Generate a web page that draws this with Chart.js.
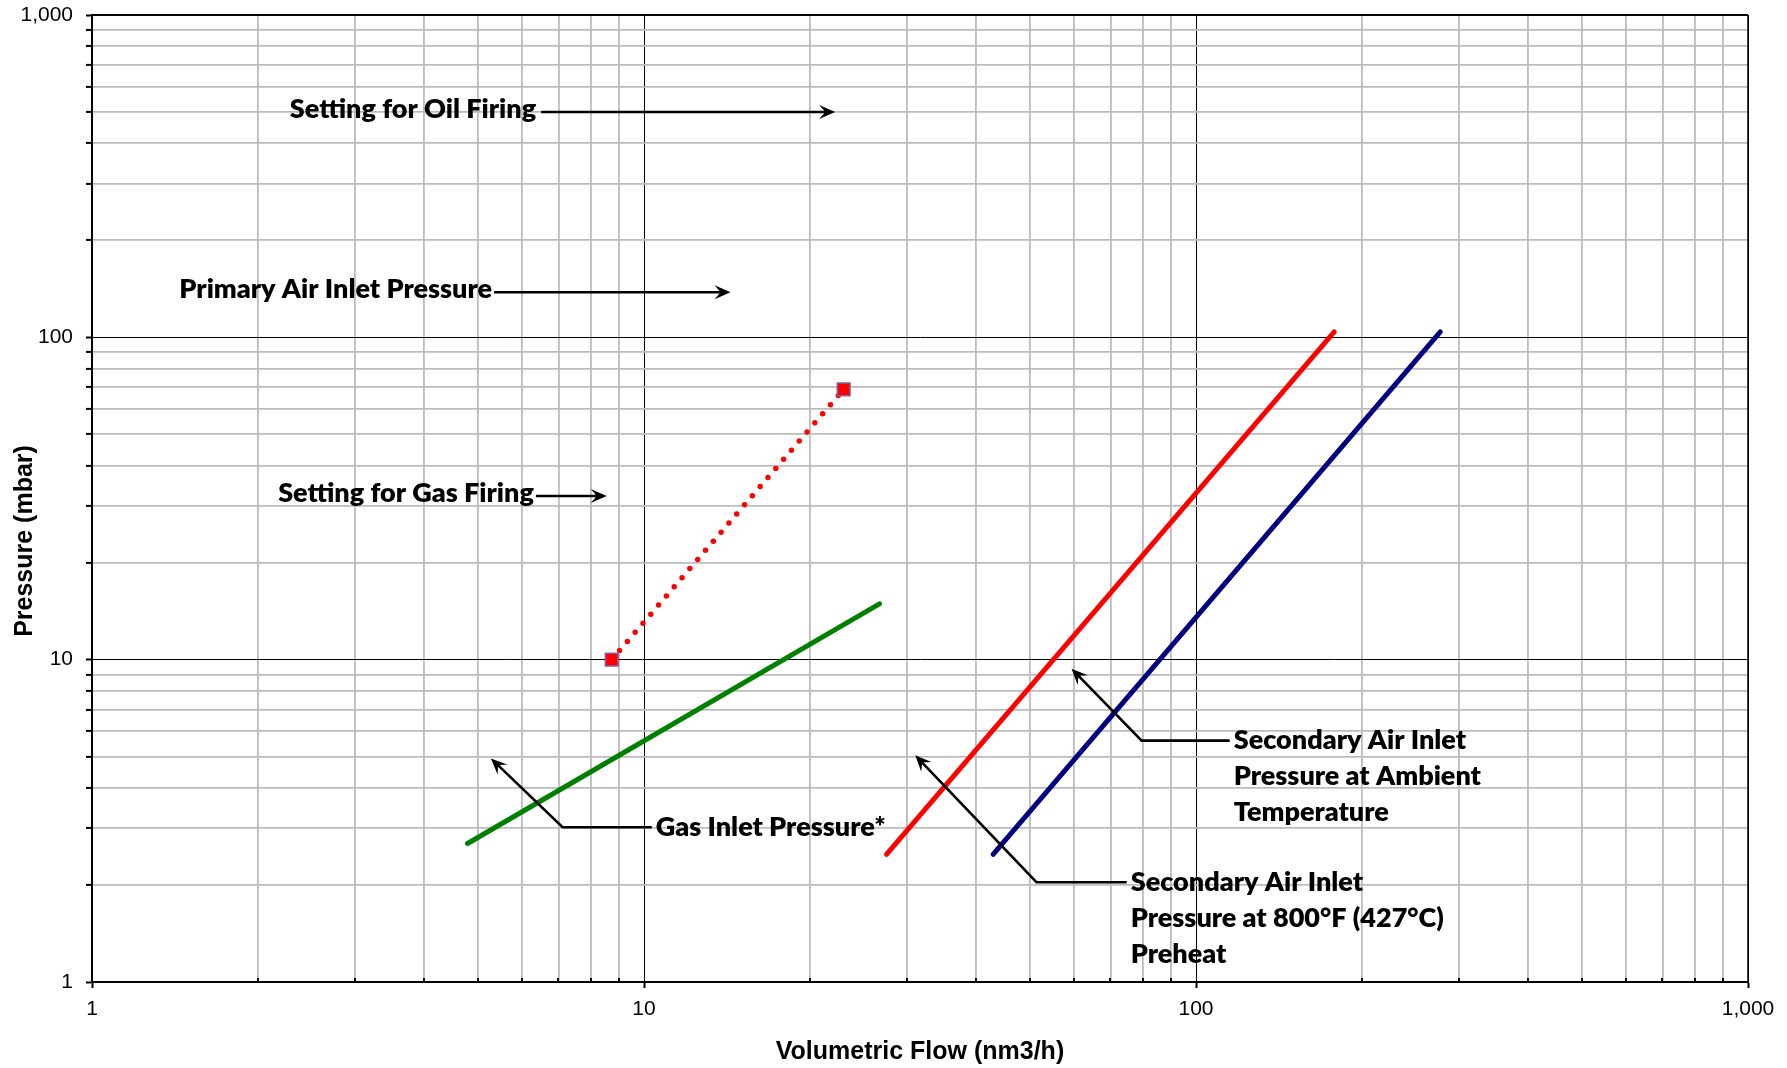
<!DOCTYPE html>
<html>
<head>
<meta charset="utf-8">
<title>Pressure vs Volumetric Flow</title>
<script src="https://cdn.jsdelivr.net/npm/chart.js@4.4.1/dist/chart.umd.min.js"></script>
<style>
  body { margin: 0; background: #fff; }
  #wrap { width: 1787px; height: 1068px; }
</style>
</head>
<body>
<div id="wrap"><canvas id="myCanvas"></canvas></div>
<script>
// axis ticks (decades get a label, the rest only a grid line)
var majorTicks = [1, 10, 100, 1000];
var minorSteps = [2, 3, 4, 5, 6, 7, 8, 9];

// setting for gas firing (dotted, with markers)
var gasSettingFlow = [8.74, 23.0];
var gasSettingPressure = [10, 69];

// gas inlet pressure
var gasInletFlow = [4.79, 26.7];
var gasInletPressure = [2.69, 14.9];

// secondary air inlet, 800F preheat (red)
var preheatFlow = [27.5, 178];
var preheatPressure = [2.49, 104];

// secondary air inlet, ambient (navy)
var ambientFlow = [42.9, 277];
var ambientPressure = [2.49, 104];

function toPoints(xs, ys) {
    var pts = [];
    for (var i = 0; i < xs.length; i++) {
        pts.push({ x: xs[i], y: ys[i] });
    }
    return pts;
}

function allTicks() {
    var list = [];
    for (var i = 0; i < majorTicks.length; i++) {
        list.push(majorTicks[i]);
        if (i < majorTicks.length - 1) {
            for (var j = 0; j < minorSteps.length; j++) {
                list.push(majorTicks[i] * minorSteps[j]);
            }
        }
    }
    return list;
}

function isMajor(v) {
    return majorTicks.indexOf(v) >= 0;
}

// notes: arrows to the right of a label
var rightArrows = [
    { text: 'Setting for Oil Firing', from: [6.51, 500], to: [22.2, 500], gap: 5 },
    { text: 'Primary Air Inlet Pressure', from: [5.35, 138], to: [14.35, 138], gap: 2 },
    { text: 'Setting for Gas Firing', from: [6.37, 32.2], to: [8.56, 32.2], gap: 2 }
];

// notes: label with an elbow leader pointing at a line
var leaders = [
    { lines: ['Gas Inlet Pressure*'], tip: [5.28, 4.94], elbow: [7.12, 3.02], endX: 10.33 },
    { lines: ['Secondary Air Inlet', 'Pressure at Ambient', 'Temperature'], tip: [59.5, 9.38], elbow: [79.7, 5.61], endX: 115.1 },
    { lines: ['Secondary Air Inlet', 'Pressure at 800\u00B0F (427\u00B0C)', 'Preheat'], tip: [31.0, 5.05], elbow: [51.4, 2.04], endX: 74.9 }
];

var noteFont = '800 27px Lato, "Open Sans", sans-serif';

function arrowHead(ctx, x1, y1, x2, y2) {
    var a = Math.atan2(y2 - y1, x2 - x1);
    var len = 16, half = 7, notch = 10;
    ctx.save();
    ctx.translate(x2, y2);
    ctx.rotate(a);
    ctx.beginPath();
    ctx.moveTo(0, 0);
    ctx.lineTo(-len, -half);
    ctx.lineTo(-notch, 0);
    ctx.lineTo(-len, half);
    ctx.closePath();
    ctx.fill();
    ctx.restore();
}

var notesPlugin = {
    id: 'notes',
    afterDatasetsDraw: function(chart) {
        var ctx = chart.ctx;
        var sx = chart.scales.x, sy = chart.scales.y;
        var area = chart.chartArea;
        ctx.save();

        // top and right frame, inward minor ticks on x axis
        ctx.strokeStyle = '#000';
        ctx.lineWidth = 2;
        ctx.beginPath();
        ctx.moveTo(area.left, area.top);
        ctx.lineTo(area.right, area.top);
        ctx.stroke();
        ctx.lineWidth = 1.5;
        ctx.beginPath();
        ctx.moveTo(area.right, area.top);
        ctx.lineTo(area.right, area.bottom);
        ctx.stroke();
        ctx.lineWidth = 2;
        var tv = allTicks();
        for (var t = 0; t < tv.length; t++) {
            if (isMajor(tv[t])) continue;
            var px = Math.round(sx.getPixelForValue(tv[t]));
            ctx.beginPath();
            ctx.moveTo(px, area.bottom);
            ctx.lineTo(px, area.bottom - 4);
            ctx.stroke();
        }

        ctx.fillStyle = '#000';
        ctx.strokeStyle = '#000';
        ctx.lineWidth = 2.6;
        ctx.font = noteFont;
        ctx.textBaseline = 'middle';

        var i, n, x1, x2, y;
        for (i = 0; i < rightArrows.length; i++) {
            n = rightArrows[i];
            x1 = sx.getPixelForValue(n.from[0]);
            x2 = sx.getPixelForValue(n.to[0]);
            y = sy.getPixelForValue(n.from[1]);
            ctx.beginPath();
            ctx.moveTo(x1, y);
            ctx.lineTo(x2 - 8, y);
            ctx.stroke();
            arrowHead(ctx, x1, y, x2, y);
            ctx.textAlign = 'right';
            ctx.fillText(n.text, x1 - n.gap, y - 3);
        }

        for (i = 0; i < leaders.length; i++) {
            n = leaders[i];
            var tx = sx.getPixelForValue(n.tip[0]);
            var ty = sy.getPixelForValue(n.tip[1]);
            var ex = sx.getPixelForValue(n.elbow[0]);
            var ey = sy.getPixelForValue(n.elbow[1]);
            var hx = sx.getPixelForValue(n.endX);
            var ang = Math.atan2(ty - ey, tx - ex);
            ctx.beginPath();
            ctx.moveTo(hx, ey);
            ctx.lineTo(ex, ey);
            ctx.lineTo(tx - 8 * Math.cos(ang), ty - 8 * Math.sin(ang));
            ctx.stroke();
            arrowHead(ctx, ex, ey, tx, ty);
            ctx.textAlign = 'left';
            for (var k = 0; k < n.lines.length; k++) {
                ctx.fillText(n.lines[k], hx + 4, ey + k * 36);
            }
        }

        // y axis title
        ctx.font = 'bold 25px "Liberation Sans", Arial, sans-serif';
        ctx.textAlign = 'center';
        ctx.translate(25, 541);
        ctx.rotate(-Math.PI / 2);
        ctx.fillText('Pressure (mbar)', 0, 0);
        ctx.restore();
    }
};

var tickFont = { family: '"Liberation Sans", Arial, sans-serif', size: 21 };

function gridColor(c) {
    return c.tick && isMajor(c.tick.value) ? '#000000' : '#bcbcbc';
}
function gridWidth(c) {
    return c.tick && isMajor(c.tick.value) ? 1 : 1.8;
}
function setTicks(scale) {
    scale.ticks = allTicks().map(function(v) { return { value: v, major: isMajor(v) }; });
}
function tickLabel(v) {
    return isMajor(v) ? v.toLocaleString('en-US') : '';
}

var ctx = document.getElementById('myCanvas').getContext('2d');
var chart = new Chart(ctx, {
    type: 'line',
    data: {
        datasets: [{
            label: 'Setting for Gas Firing',
            data: toPoints(gasSettingFlow, gasSettingPressure),
            borderColor: '#ff0000',
            borderWidth: 5.5,
            borderDash: [0, 12],
            borderCapStyle: 'round',
            pointStyle: 'rect',
            pointRadius: 9,
            pointBackgroundColor: '#ff0000',
            pointBorderColor: '#8064a2',
            pointBorderWidth: 1.5
        }, {
            label: 'Gas Inlet Pressure*',
            data: toPoints(gasInletFlow, gasInletPressure),
            borderColor: '#008000',
            borderWidth: 5,
            borderCapStyle: 'round',
            pointRadius: 0
        }, {
            label: 'Secondary Air Inlet Pressure at 800F Preheat',
            data: toPoints(preheatFlow, preheatPressure),
            borderColor: '#ff0000',
            borderWidth: 5,
            borderCapStyle: 'round',
            pointRadius: 0
        }, {
            label: 'Secondary Air Inlet Pressure at Ambient Temperature',
            data: toPoints(ambientFlow, ambientPressure),
            borderColor: '#000080',
            borderWidth: 5,
            borderCapStyle: 'round',
            pointRadius: 0
        }]
    },
    options: {
        responsive: true,
        maintainAspectRatio: false,
        animation: false,
        devicePixelRatio: 1,
        layout: { padding: { top: 15, right: 39, bottom: 0, left: 0 } },
        plugins: {
            legend: { display: false },
            tooltip: { enabled: false }
        },
        scales: {
            x: {
                type: 'logarithmic',
                min: 1,
                max: 1000,
                afterBuildTicks: setTicks,
                afterFit: function(scale) {
                    scale.height = 86;
                    scale.paddingLeft = 0;
                    scale.paddingRight = 0;
                },
                border: { color: '#000', width: 2 },
                grid: {
                    color: gridColor,
                    lineWidth: gridWidth,
                    tickLength: 6,
                    tickWidth: 2,
                    tickColor: function(c) { return c.tick && isMajor(c.tick.value) ? '#000' : 'rgba(0,0,0,0)'; }
                },
                ticks: {
                    autoSkip: false,
                    maxRotation: 0,
                    padding: 9,
                    color: '#000',
                    font: tickFont,
                    callback: tickLabel
                },
                title: {
                    display: true,
                    text: 'Volumetric Flow (nm3/h)',
                    color: '#000',
                    font: { family: '"Liberation Sans", Arial, sans-serif', size: 25, weight: 'bold' },
                    padding: { top: 0, bottom: 1 }
                }
            },
            y: {
                type: 'logarithmic',
                min: 1,
                max: 1000,
                afterBuildTicks: setTicks,
                afterFit: function(scale) {
                    scale.width = 92;
                    scale.paddingTop = 0;
                    scale.paddingBottom = 0;
                },
                border: { color: '#000', width: 2 },
                grid: {
                    color: gridColor,
                    lineWidth: gridWidth,
                    tickLength: 6,
                    tickWidth: 2,
                    tickColor: '#000'
                },
                ticks: {
                    autoSkip: false,
                    padding: 13,
                    color: '#000',
                    font: tickFont,
                    callback: tickLabel
                }
            }
        }
    },
    plugins: [notesPlugin]
});
</script>
</body>
</html>
